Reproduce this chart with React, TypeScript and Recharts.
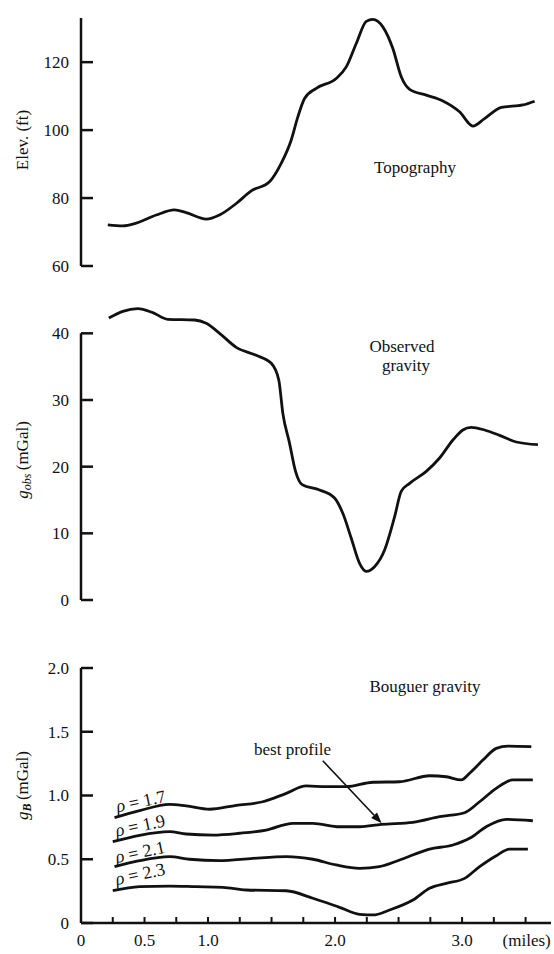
import React from 'react';
import { LineChart, Line, XAxis, YAxis, ReferenceLine, ReferenceDot, Label } from 'recharts';

// ---------- data ----------
const topoMiles = [0.211, 0.329, 0.434, 0.592, 0.736, 0.828, 0.986, 1.09, 1.222, 1.34, 1.484, 1.576, 1.655, 1.707, 1.76, 1.852, 2.009, 2.088, 2.167, 2.246, 2.298, 2.376, 2.455, 2.521, 2.587, 2.718, 2.849, 2.98, 3.085, 3.177, 3.309, 3.479, 3.571];
const topoElev = [72.1, 71.8, 72.6, 75.0, 76.5, 75.7, 73.8, 75.0, 78.4, 82.1, 84.8, 90.2, 97.1, 103.9, 109.3, 112.3, 115.2, 118.6, 125.5, 132.0, 132.6, 130.4, 124.0, 115.7, 112.0, 110.3, 108.6, 105.4, 101.2, 103.4, 106.7, 107.4, 108.5];

const gobsMiles = [0.219, 0.329, 0.447, 0.565, 0.683, 0.894, 0.986, 1.091, 1.222, 1.379, 1.498, 1.557, 1.589, 1.642, 1.689, 1.741, 1.878, 1.996, 2.061, 2.127, 2.193, 2.246, 2.311, 2.39, 2.469, 2.521, 2.587, 2.718, 2.823, 2.928, 3.006, 3.072, 3.177, 3.295, 3.427, 3.597];
const gobsVals = [42.3, 43.3, 43.7, 43.1, 42.1, 42.0, 41.5, 40.0, 37.9, 36.7, 35.5, 33.0, 28.0, 23.5, 19.3, 17.3, 16.5, 15.3, 13.0, 9.3, 5.5, 4.3, 5.0, 7.5, 12.5, 16.3, 17.5, 19.3, 21.3, 24.0, 25.5, 25.9, 25.5, 24.7, 23.7, 23.3];

const rho17Miles = [0.264, 0.461, 0.697, 0.828, 1.012, 1.222, 1.431, 1.616, 1.773, 1.93, 2.088, 2.298, 2.508, 2.744, 2.876, 2.994, 3.059, 3.164, 3.269, 3.361, 3.545];
const rho17Vals = [0.826, 0.881, 0.931, 0.918, 0.892, 0.923, 0.951, 1.017, 1.075, 1.069, 1.069, 1.104, 1.108, 1.155, 1.147, 1.122, 1.174, 1.278, 1.37, 1.388, 1.383];

const rho19Miles = [0.25, 0.461, 0.697, 0.828, 1.038, 1.248, 1.458, 1.668, 1.825, 2.035, 2.193, 2.364, 2.613, 2.823, 3.02, 3.138, 3.269, 3.4, 3.557];
const rho19Vals = [0.638, 0.688, 0.716, 0.698, 0.69, 0.704, 0.729, 0.782, 0.782, 0.755, 0.755, 0.774, 0.79, 0.834, 0.865, 0.951, 1.056, 1.122, 1.122];

const rho21Miles = [0.264, 0.461, 0.697, 0.854, 1.091, 1.353, 1.616, 1.825, 2.009, 2.193, 2.35, 2.508, 2.744, 2.928, 3.059, 3.19, 3.348, 3.557];
const rho21Vals = [0.442, 0.489, 0.52, 0.5, 0.489, 0.507, 0.52, 0.5, 0.455, 0.429, 0.442, 0.494, 0.58, 0.612, 0.664, 0.755, 0.813, 0.802];

const rho23Miles = [0.25, 0.461, 0.697, 0.907, 1.117, 1.301, 1.616, 1.825, 2.035, 2.193, 2.298, 2.429, 2.613, 2.744, 2.876, 3.02, 3.138, 3.269, 3.374, 3.518];
const rho23Vals = [0.253, 0.285, 0.29, 0.285, 0.28, 0.259, 0.253, 0.194, 0.123, 0.068, 0.063, 0.102, 0.18, 0.272, 0.311, 0.35, 0.442, 0.528, 0.58, 0.58];

const topoTicks = [60, 80, 100, 120];
const gobsTicks = [0, 10, 20, 30, 40];
const bougTicks = [0, 0.5, 1.0, 1.5, 2.0];
const bougTickLabels = ['0', '0.5', '1.0', '1.5', '2.0'];
const xTicks = [0, 0.25, 0.5, 0.75, 1.0, 1.25, 1.5, 1.75, 2.0, 2.25, 2.5, 2.75, 3.0, 3.25, 3.5];
const xTickLabels: Record<string, string> = { '0': '0', '0.5': '0.5', '1': '1.0', '2': '2.0', '3': '3.0', '3.5': '(miles)' };

const rhoValues = ['1.7', '1.9', '2.1', '2.3'];
const rhoLabelPos = [
  { x: 0.47, y: 0.958 },
  { x: 0.465, y: 0.767 },
  { x: 0.465, y: 0.559 },
  { x: 0.465, y: 0.387 },
];

const zip = (xs: number[], ys: number[]) => xs.map((x, i) => ({ x, y: ys[i] }));
const topoData = zip(topoMiles, topoElev);
const gobsData = zip(gobsMiles, gobsVals);
const rhoSeries = [zip(rho17Miles, rho17Vals), zip(rho19Miles, rho19Vals), zip(rho21Miles, rho21Vals), zip(rho23Miles, rho23Vals)];

// ---------- styles ----------
const FONT = "'Liberation Serif', 'DejaVu Serif', serif";
const INK = '#111';
const FS = 17;
const W = 554;
const X_DOMAIN: [number, number] = [0, 3.7];
const MARGIN_R = 3;
const YAXIS_W = 81;
const TICK_MARGIN = 12;

const YTick = (props: any) => {
  const { x, y, payload, fmt } = props;
  const ax = x + TICK_MARGIN;
  const label = fmt ? fmt(payload.value) : String(payload.value);
  return (
    <g>
      <line x1={ax} x2={ax + 12} y1={y} y2={y} stroke={INK} strokeWidth={2.5} />
      <text x={ax - 12} y={y} dy="0.35em" textAnchor="end" fontFamily={FONT} fontSize={FS} fill={INK}>
        {label}
      </text>
    </g>
  );
};

const XTick = (props: any) => {
  const { x, y, payload } = props;
  const key = String(payload.value);
  const label = xTickLabels[key];
  const isUnit = key === '3.5';
  return (
    <g>
      <line x1={x} x2={x} y1={y} y2={y - 6} stroke={INK} strokeWidth={2} />
      {label ? (
        <text x={isUnit ? x - 23 : x} y={y + 23} textAnchor={isUnit ? 'start' : 'middle'} fontFamily={FONT} fontSize={FS} fill={INK}>
          {label}
        </text>
      ) : null}
    </g>
  );
};

const makeYLabel = (kind: 'elev' | 'gobs' | 'gb', dyOff: number) => (props: any) => {
  const vb = props.viewBox || { x: 0, y: 0, width: 0, height: 0 };
  const cx = vb.x + 24;
  const cy = vb.y + vb.height / 2 + dyOff;
  return (
    <text x={cx} y={cy} transform={`rotate(-90, ${cx}, ${cy})`} textAnchor="middle" dominantBaseline="middle" fontFamily={FONT} fontSize={FS} fill={INK}>
      {kind === 'elev' ? 'Elev. (ft)' : null}
      {kind === 'gobs' ? (
        <>
          <tspan fontStyle="italic">g</tspan>
          <tspan fontStyle="italic" fontSize={12} dy={4}>obs</tspan>
          <tspan dy={-4}>{'\u2009(mGal)'}</tspan>
        </>
      ) : null}
      {kind === 'gb' ? (
        <>
          <tspan fontStyle="italic">g</tspan>
          <tspan fontStyle="italic" fontWeight="bold" fontSize={12} dy={4}>B</tspan>
          <tspan dy={-4}>{'\u2009(mGal)'}</tspan>
        </>
      ) : null}
    </text>
  );
};

const textShape = (lines: string[], opts: { lineGap?: number; xOffsets?: number[] } = {}) => (p: any) => {
  const { cx, cy } = p;
  const gap = opts.lineGap ?? 19;
  const n = lines.length;
  return (
    <g>
      {lines.map((t, i) => (
        <text
          key={i}
          x={cx + (opts.xOffsets ? opts.xOffsets[i] : 0)}
          y={cy + (i - (n - 1) / 2) * gap}
          dy="0.35em"
          textAnchor="middle"
          fontFamily={FONT}
          fontSize={FS}
          fill={INK}
        >
          {t}
        </text>
      ))}
    </g>
  );
};

const rhoShape = (value: string) => (p: any) => {
  const { cx, cy } = p;
  return (
    <g transform={`rotate(-12, ${cx}, ${cy})`}>
      <text x={cx} y={cy} dy="0.35em" textAnchor="middle" fontFamily={FONT} fontSize={18} fill={INK}>
        <tspan fontStyle="italic">ρ</tspan>
        <tspan>{` = ${value}`}</tspan>
      </text>
    </g>
  );
};

const arrowShape = (p: any) => {
  const { x1, y1, x2, y2 } = p;
  const ang = Math.atan2(y2 - y1, x2 - x1);
  const L = 11;
  const Wd = 4;
  const bx = x2 - L * Math.cos(ang);
  const by = y2 - L * Math.sin(ang);
  const px = -Math.sin(ang) * Wd;
  const py = Math.cos(ang) * Wd;
  return (
    <g>
      <line x1={x1} y1={y1} x2={bx} y2={by} stroke={INK} strokeWidth={1.6} />
      <polygon points={`${x2},${y2} ${bx + px},${by + py} ${bx - px},${by - py}`} fill={INK} />
    </g>
  );
};

const lineProps = {
  type: 'monotone' as const,
  dataKey: 'y',
  stroke: INK,
  strokeWidth: 2.8,
  dot: false,
  activeDot: false,
  isAnimationActive: false,
};

export default function App() {
  return (
    <div style={{ position: 'absolute', left: 0, top: 0, width: W, height: 954, overflow: 'hidden', background: '#fff', fontFamily: FONT }}>
      {/* Topography */}
      <div style={{ position: 'absolute', left: 0, top: 0 }}>
        <LineChart width={W} height={280} margin={{ top: 18, right: MARGIN_R, left: 0, bottom: 14 }}>
          <XAxis type="number" dataKey="x" domain={X_DOMAIN} hide />
          <YAxis
            type="number"
            domain={[60, 133]}
            ticks={topoTicks}
            interval={0}
            width={YAXIS_W}
            tickSize={0}
            tickMargin={TICK_MARGIN}
            tick={<YTick />}
            axisLine={{ stroke: INK, strokeWidth: 2.5 }}
          >
            <Label content={makeYLabel('elev', -2)} />
          </YAxis>
          <Line {...lineProps} data={topoData} />
          <ReferenceDot x={2.629} y={89.1} r={0} shape={textShape(['Topography'])} />
        </LineChart>
      </div>

      {/* Observed gravity */}
      <div style={{ position: 'absolute', left: 0, top: 280 }}>
        <LineChart width={W} height={330} margin={{ top: 20, right: MARGIN_R, left: 0, bottom: 10 }}>
          <XAxis type="number" dataKey="x" domain={X_DOMAIN} hide />
          <YAxis
            type="number"
            domain={[0, 45]}
            ticks={gobsTicks}
            interval={0}
            width={YAXIS_W}
            tickSize={0}
            tickMargin={TICK_MARGIN}
            tick={<YTick />}
            axisLine={false}
          >
            <Label content={makeYLabel('gobs', 10)} />
          </YAxis>
          <ReferenceLine segment={[{ x: 0, y: 0 }, { x: 0, y: 40 }]} stroke={INK} strokeWidth={2.5} />
          <Line {...lineProps} data={gobsData} />
          <ReferenceDot x={2.527} y={36.6} r={0} shape={textShape(['Observed', 'gravity'], { xOffsets: [0, 4] })} />
        </LineChart>
      </div>

      {/* Bouguer gravity */}
      <div style={{ position: 'absolute', left: 0, top: 640 }}>
        <LineChart width={W} height={314} margin={{ top: 28, right: MARGIN_R, left: 0, bottom: 0 }}>
          <XAxis
            type="number"
            dataKey="x"
            domain={X_DOMAIN}
            ticks={xTicks}
            interval={0}
            height={31}
            tickSize={0}
            tickMargin={0}
            tick={<XTick />}
            axisLine={{ stroke: INK, strokeWidth: 2.5 }}
          />
          <YAxis
            type="number"
            domain={[0, 2]}
            ticks={bougTicks}
            interval={0}
            width={YAXIS_W}
            tickSize={0}
            tickMargin={TICK_MARGIN}
            tick={<YTick fmt={(v: number) => bougTickLabels[bougTicks.indexOf(v)]} />}
            axisLine={{ stroke: INK, strokeWidth: 2.5 }}
          >
            <Label content={makeYLabel('gb', -10)} />
          </YAxis>
          {rhoSeries.map((d, i) => (
            <Line key={i} {...lineProps} data={d} />
          ))}
          {rhoValues.map((v, i) => (
            <ReferenceDot key={v} x={rhoLabelPos[i].x} y={rhoLabelPos[i].y} r={0} shape={rhoShape(v)} />
          ))}
          <ReferenceDot x={2.708} y={1.861} r={0} shape={textShape(['Bouguer gravity'])} />
          <ReferenceDot x={1.665} y={1.365} r={0} shape={textShape(['best profile'])} />
          <ReferenceLine segment={[{ x: 1.903, y: 1.273 }, { x: 2.367, y: 0.782 }]} shape={arrowShape} />
        </LineChart>
      </div>
    </div>
  );
}
